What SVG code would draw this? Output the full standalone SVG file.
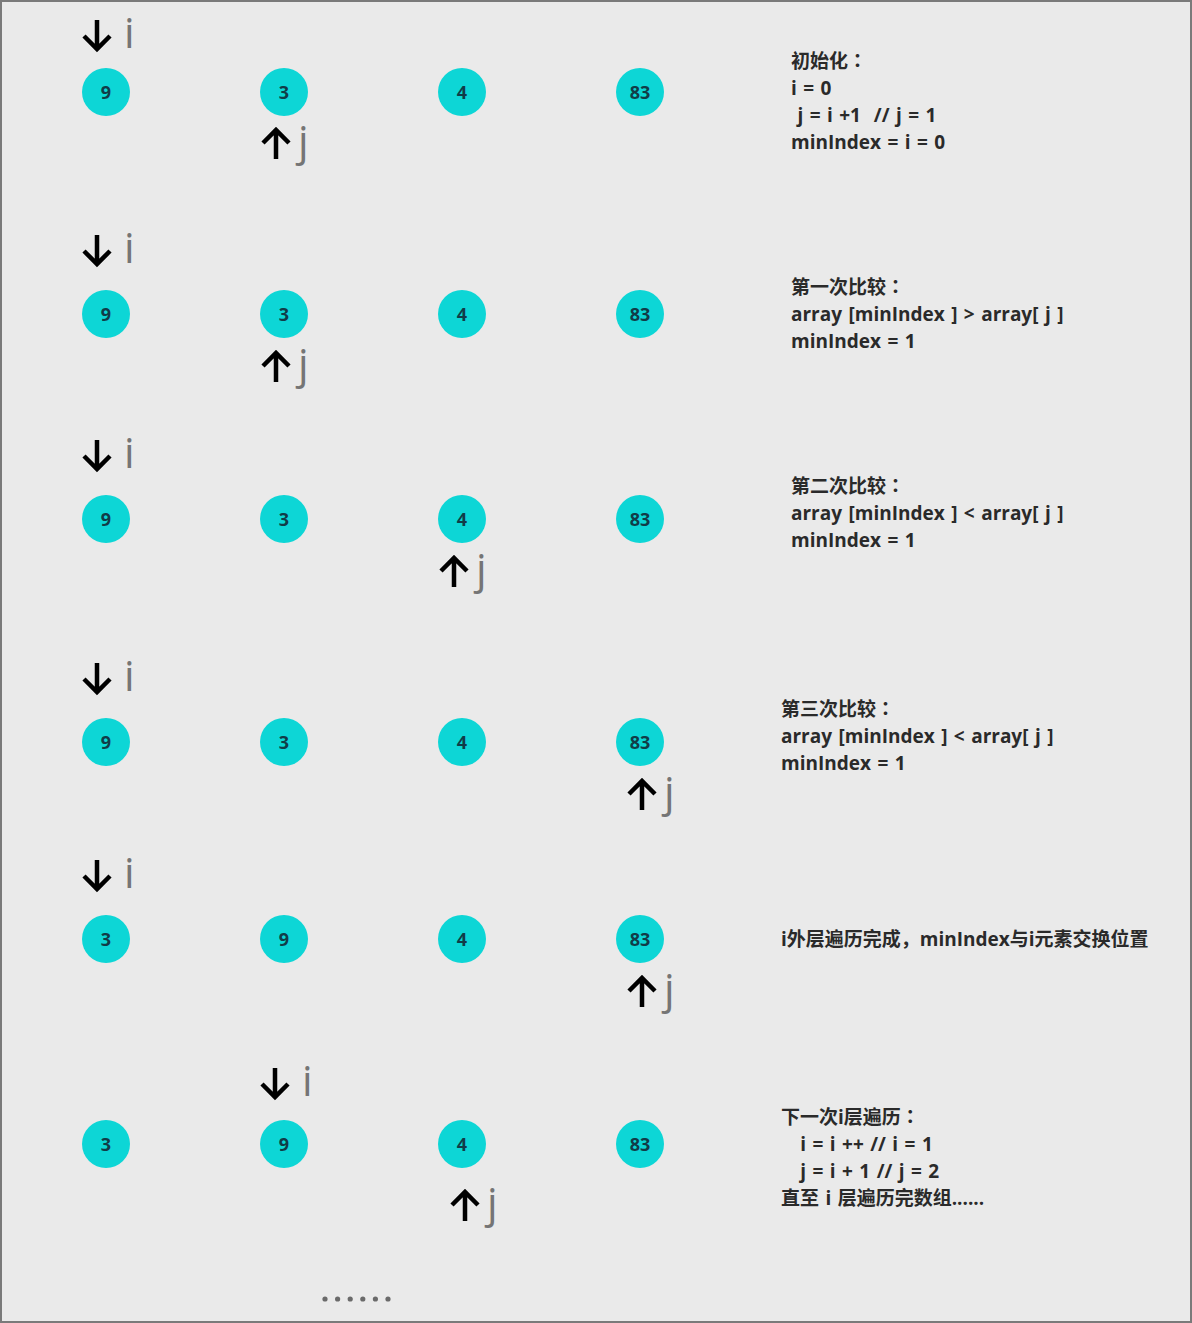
<svg xmlns="http://www.w3.org/2000/svg" xmlns:xlink="http://www.w3.org/1999/xlink" width="1192" height="1323" viewBox="0 0 1192 1323">
<style>
.bg{fill:#eaeaea;stroke:#7a7a7a;stroke-width:2}
.node circle{fill:#0dd6d6}
.node text{font-family:"Open Sans","Liberation Sans",sans-serif;font-weight:700;font-size:18px;fill:#113c48;text-anchor:middle;dominant-baseline:central}
.arr{fill:none;stroke:#000;stroke-width:4.5}
.lbl{font-family:"Open Sans","DejaVu Sans",sans-serif;font-weight:400;font-size:42px;fill:#757575}
.note{font-family:"Open Sans","Noto Sans CJK SC",sans-serif;font-weight:700;font-size:19px;fill:#2a2a2a;word-spacing:1.5px}
.cn{font-family:"Noto Sans CJK TC",sans-serif}
.dot{fill:#6a6a6a}
</style>
<defs>
<path id="down" class="arr" d="M0,-15 V14 M-13,1 L0,14 L13,1"/>
<path id="up" class="arr" d="M0,15 V-14 M-13,-1 L0,-14 L13,-1"/>
</defs>
<rect class="bg" x="1" y="1" width="1190" height="1321"/>

<g id="row1">
<g id="r1-i"><use xlink:href="#down" x="97" y="35"/><text class="lbl" x="124" y="48">i</text></g>
<g id="r1-n0" class="node"><circle cx="106" cy="92" r="24"/><text x="106" y="92">9</text></g>
<g id="r1-n1" class="node"><circle cx="284" cy="92" r="24"/><text x="284" y="92">3</text></g>
<g id="r1-n2" class="node"><circle cx="462" cy="92" r="24"/><text x="462" y="92">4</text></g>
<g id="r1-n3" class="node"><circle cx="640" cy="92" r="24"/><text x="640" y="92">83</text></g>
<g id="r1-j"><use xlink:href="#up" x="276" y="144"/><text class="lbl" x="298" y="156">j</text></g>
<text class="note" x="791" y="68">初始化<tspan class="cn">：</tspan></text>
<text class="note" x="791" y="95">i = 0</text>
<text class="note" x="791" y="122" xml:space="preserve"> j = i +1  // j = 1</text>
<text class="note" x="791" y="149">minIndex = i = 0</text>
</g>

<g id="row2">
<g id="r2-i"><use xlink:href="#down" x="97" y="250"/><text class="lbl" x="124" y="263">i</text></g>
<g id="r2-n0" class="node"><circle cx="106" cy="314" r="24"/><text x="106" y="314">9</text></g>
<g id="r2-n1" class="node"><circle cx="284" cy="314" r="24"/><text x="284" y="314">3</text></g>
<g id="r2-n2" class="node"><circle cx="462" cy="314" r="24"/><text x="462" y="314">4</text></g>
<g id="r2-n3" class="node"><circle cx="640" cy="314" r="24"/><text x="640" y="314">83</text></g>
<g id="r2-j"><use xlink:href="#up" x="276" y="367"/><text class="lbl" x="298" y="379">j</text></g>
<text class="note" x="791" y="294">第一次比较<tspan class="cn">：</tspan></text>
<text class="note" x="791" y="321">array [minIndex ] &gt; array[ j ]</text>
<text class="note" x="791" y="348">minIndex = 1</text>
</g>

<g id="row3">
<g id="r3-i"><use xlink:href="#down" x="97" y="455"/><text class="lbl" x="124" y="468">i</text></g>
<g id="r3-n0" class="node"><circle cx="106" cy="519" r="24"/><text x="106" y="519">9</text></g>
<g id="r3-n1" class="node"><circle cx="284" cy="519" r="24"/><text x="284" y="519">3</text></g>
<g id="r3-n2" class="node"><circle cx="462" cy="519" r="24"/><text x="462" y="519">4</text></g>
<g id="r3-n3" class="node"><circle cx="640" cy="519" r="24"/><text x="640" y="519">83</text></g>
<g id="r3-j"><use xlink:href="#up" x="454" y="572"/><text class="lbl" x="476" y="584">j</text></g>
<text class="note" x="791" y="493">第二次比较<tspan class="cn">：</tspan></text>
<text class="note" x="791" y="520">array [minIndex ] &lt; array[ j ]</text>
<text class="note" x="791" y="547">minIndex = 1</text>
</g>

<g id="row4">
<g id="r4-i"><use xlink:href="#down" x="97" y="678"/><text class="lbl" x="124" y="691">i</text></g>
<g id="r4-n0" class="node"><circle cx="106" cy="742" r="24"/><text x="106" y="742">9</text></g>
<g id="r4-n1" class="node"><circle cx="284" cy="742" r="24"/><text x="284" y="742">3</text></g>
<g id="r4-n2" class="node"><circle cx="462" cy="742" r="24"/><text x="462" y="742">4</text></g>
<g id="r4-n3" class="node"><circle cx="640" cy="742" r="24"/><text x="640" y="742">83</text></g>
<g id="r4-j"><use xlink:href="#up" x="642" y="795"/><text class="lbl" x="664" y="807">j</text></g>
<text class="note" x="781" y="716">第三次比较<tspan class="cn">：</tspan></text>
<text class="note" x="781" y="743">array [minIndex ] &lt; array[ j ]</text>
<text class="note" x="781" y="770">minIndex = 1</text>
</g>

<g id="row5">
<g id="r5-i"><use xlink:href="#down" x="97" y="875"/><text class="lbl" x="124" y="888">i</text></g>
<g id="r5-n0" class="node"><circle cx="106" cy="939" r="24"/><text x="106" y="939">3</text></g>
<g id="r5-n1" class="node"><circle cx="284" cy="939" r="24"/><text x="284" y="939">9</text></g>
<g id="r5-n2" class="node"><circle cx="462" cy="939" r="24"/><text x="462" y="939">4</text></g>
<g id="r5-n3" class="node"><circle cx="640" cy="939" r="24"/><text x="640" y="939">83</text></g>
<g id="r5-j"><use xlink:href="#up" x="642" y="992"/><text class="lbl" x="664" y="1004">j</text></g>
<text class="note" x="781" y="946">i外层遍历完成，minIndex与i元素交换位置</text>
</g>

<g id="row6">
<g id="r6-i"><use xlink:href="#down" x="275" y="1083"/><text class="lbl" x="302" y="1096">i</text></g>
<g id="r6-n0" class="node"><circle cx="106" cy="1144" r="24"/><text x="106" y="1144">3</text></g>
<g id="r6-n1" class="node"><circle cx="284" cy="1144" r="24"/><text x="284" y="1144">9</text></g>
<g id="r6-n2" class="node"><circle cx="462" cy="1144" r="24"/><text x="462" y="1144">4</text></g>
<g id="r6-n3" class="node"><circle cx="640" cy="1144" r="24"/><text x="640" y="1144">83</text></g>
<g id="r6-j"><use xlink:href="#up" x="465" y="1206"/><text class="lbl" x="487" y="1218">j</text></g>
<text class="note" x="781" y="1124">下一次i层遍历<tspan class="cn">：</tspan></text>
<text class="note" x="781" y="1151" xml:space="preserve">   i = i ++ // i = 1</text>
<text class="note" x="781" y="1178" xml:space="preserve">   j = i + 1 // j = 2</text>
<text class="note" x="781" y="1205">直至 i 层遍历完数组......</text>
</g>

<g id="ellipsis">
<circle class="dot" cx="325" cy="1299" r="2.6"/>
<circle class="dot" cx="337.6" cy="1299" r="2.6"/>
<circle class="dot" cx="350.2" cy="1299" r="2.6"/>
<circle class="dot" cx="362.8" cy="1299" r="2.6"/>
<circle class="dot" cx="375.4" cy="1299" r="2.6"/>
<circle class="dot" cx="388" cy="1299" r="2.6"/>
</g>
</svg>
